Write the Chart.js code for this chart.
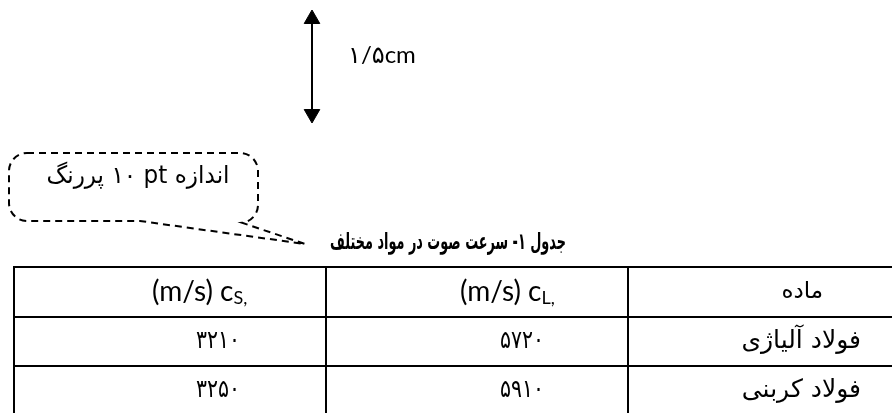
<!DOCTYPE html>
<html><head><meta charset="utf-8">
<script src="https://cdn.jsdelivr.net/npm/chart.js@4.4.1/dist/chart.umd.min.js"></script>
<style>html,body{margin:0;padding:0;background:#fff;overflow:hidden}canvas{display:block}</style>
</head><body><canvas id="c" width="892" height="413"></canvas>
<script>
// ---- data ----
const tableTitle = 'جدول ۱- سرعت صوت در مواد مختلف';
const headerMaterial = 'ماده';
const headerCL = ['(m/s) c', 'L,'];
const headerCS = ['(m/s) c', 'S,'];
const materials = ['فولاد آلیاژی', 'فولاد کربنی'];
const speedCL = [5720, 5910];
const speedCS = [3210, 3250];
const scaleLabel = '۱/۵cm';
const calloutText = 'اندازه pt \u200F۱۰ پررنگ';

// ---- layout (positions only) ----
const L = {
  tableLeft: 14, tableRight: 900, tableTop: 267, rowH: 49, colDiv: [326, 628],
  arrowX: 312, arrowTop: 10, arrowBottom: 123,
  headerY: 292,
  csLeft: 152, clLeft: 460, matRight: 823, rowTextRight: 861,
  csNumCenter: 218, clNumCenter: 522, numWidth: 44
};

function fa(n){ return String(n).replace(/\d/g, d => '۰۱۲۳۴۵۶۷۸۹'[d]); }

const nRows = materials.length + 1;
const tableBottom = L.tableTop + nRows * L.rowH + 10;
const seg = (x1,y1,x2,y2,extra={}) => Object.assign({
  data:[{x:x1,y:y1},{x:x2,y:y2}], showLine:true, borderColor:'#000',
  borderWidth:2, pointRadius:0, clip:false, borderCapStyle:'butt'
}, extra);

const datasets = [];
for (let r = 0; r < nRows; r++) {
  const y = L.tableTop + r * L.rowH + (r > 0 ? 1 : 0);
  datasets.push(seg(L.tableLeft - 1, y, L.tableRight, y));
}
datasets.push(seg(L.tableLeft, L.tableTop, L.tableLeft, tableBottom));
L.colDiv.forEach(x => datasets.push(seg(x, L.tableTop, x, tableBottom)));
datasets.push(seg(L.arrowX, L.arrowTop + 9, L.arrowX, L.arrowBottom - 9, {
  pointRadius: 9, pointStyle: 'triangle', pointRotation: [0, 180],
  pointBackgroundColor: '#000', pointBorderColor: '#000', pointBorderWidth: 1
}));

const textPlugin = {
  id: 'textPlugin',
  afterDatasetsDraw(chart) {
    const ctx = chart.ctx, sx = chart.scales.x, sy = chart.scales.y;
    const X = v => sx.getPixelForValue(v), Y = v => sy.getPixelForValue(v);
    const fitText = (txt, font, cx, cy, width, dir) => {
      ctx.save();
      ctx.font = font; ctx.direction = dir; ctx.textAlign = 'center';
      const w = ctx.measureText(txt).width;
      ctx.translate(cx, cy);
      ctx.scale(Math.min(1, width / w), 1);
      ctx.fillText(txt, 0, 0);
      ctx.restore();
    };
    ctx.save();
    ctx.fillStyle = '#000';
    ctx.textBaseline = 'middle';

    ctx.direction = 'ltr'; ctx.textAlign = 'left';
    ctx.font = '24px Lato, "DejaVu Sans", sans-serif';
    ctx.fillText(scaleLabel, X(348), Y(55));

    ctx.save();
    ctx.setLineDash([7, 5]); ctx.lineWidth = 2; ctx.strokeStyle = '#000';
    ctx.beginPath();
    const l = X(9), r = X(258), t = Y(153), b = Y(221), rad = 18;
    ctx.moveTo(l + rad, t);
    ctx.lineTo(r - rad, t);
    ctx.arcTo(r, t, r, t + rad, rad);
    ctx.lineTo(r, b - rad);
    ctx.arcTo(r, b, r - rad, b + 2, rad);
    ctx.lineTo(X(305), Y(244));
    ctx.lineTo(X(140), b);
    ctx.lineTo(l + rad, b);
    ctx.arcTo(l, b, l, b - rad, rad);
    ctx.lineTo(l, t + rad);
    ctx.arcTo(l, t, l + rad, t, rad);
    ctx.stroke();
    ctx.restore();

    fitText(calloutText, '24px "DejaVu Sans", sans-serif', X(138), Y(177), 183, 'rtl');
    fitText(tableTitle, 'bold 23px "DejaVu Sans", sans-serif', X(448), Y(243), 236, 'rtl');

    const drawSub = (parts, x, y) => {
      ctx.direction = 'ltr'; ctx.textAlign = 'left';
      ctx.font = '28px Lato, sans-serif';
      ctx.fillText(parts[0], x, y);
      const w = ctx.measureText(parts[0]).width;
      ctx.font = '18px Lato, sans-serif';
      ctx.fillText(parts[1], x + w, y + 6);
    };
    drawSub(headerCS, X(L.csLeft), Y(L.headerY));
    drawSub(headerCL, X(L.clLeft), Y(L.headerY));

    ctx.direction = 'rtl'; ctx.textAlign = 'right';
    ctx.font = '23px "DejaVu Sans", sans-serif';
    ctx.fillText(headerMaterial, X(L.matRight), Y(L.headerY));

    materials.forEach((m, i) => {
      const y = L.headerY + (i + 1) * L.rowH;
      ctx.direction = 'rtl'; ctx.textAlign = 'right';
      ctx.font = '25px "DejaVu Sans", sans-serif';
      ctx.fillText(m, X(L.rowTextRight), Y(y));
      const nf = '25px "DejaVu Sans", sans-serif';
      fitText(fa(speedCS[i]), nf, X(L.csNumCenter), Y(y), L.numWidth, 'ltr');
      fitText(fa(speedCL[i]), nf, X(L.clNumCenter), Y(y), L.numWidth, 'ltr');
    });
    ctx.restore();
  }
};

new Chart(document.getElementById('c'), {
  type: 'scatter',
  data: { datasets },
  options: {
    responsive: false, animation: false, devicePixelRatio: 1,
    layout: { padding: 0, autoPadding: false },
    plugins: { legend: { display: false }, tooltip: { enabled: false } },
    scales: {
      x: { type: 'linear', display: false, min: 0, max: 892 },
      y: { type: 'linear', display: false, min: 0, max: 413, reverse: true }
    }
  },
  plugins: [textPlugin]
});
</script>
</body></html>
